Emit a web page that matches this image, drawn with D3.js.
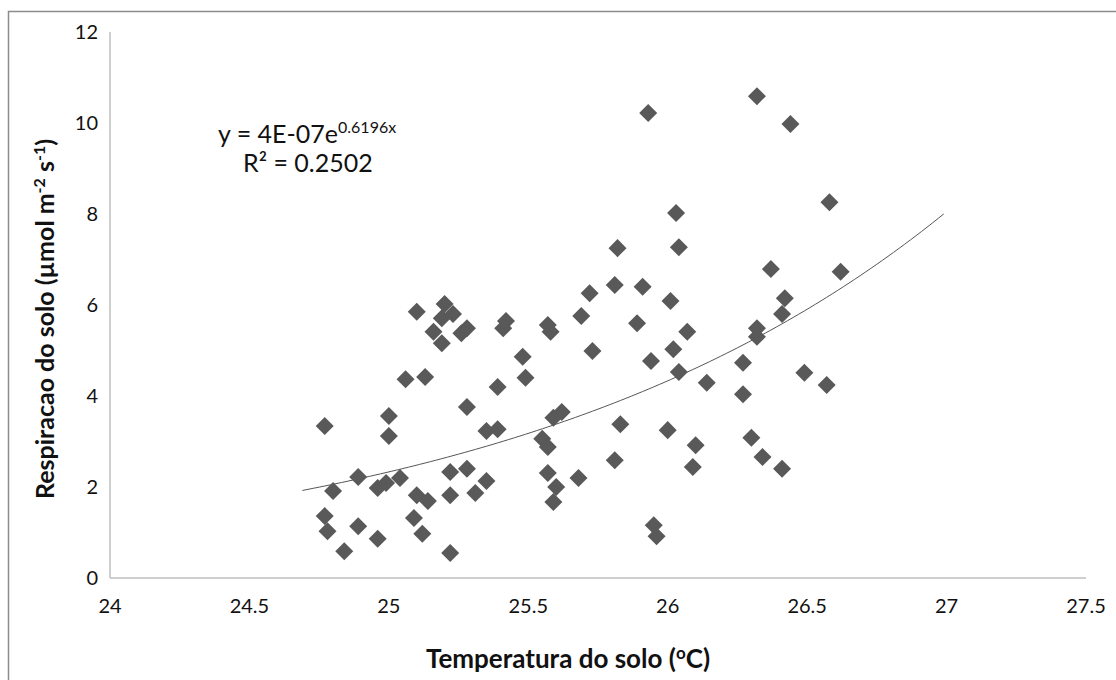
<!DOCTYPE html>
<html>
<head>
<meta charset="utf-8">
<script src="https://cdn.jsdelivr.net/npm/d3@7"></script>
<style>
  html, body { margin: 0; padding: 0; background: #fff; }
  svg { display: block; font-family: Lato, "Open Sans", sans-serif; }
</style>
</head>
<body>
<svg id="chart" width="1116" height="680"></svg>
<script>
// soil temperature (°C)
const temperatura = [
    24.77, 24.80, 24.77, 24.78, 24.84, 24.89, 24.89, 24.96, 25.00, 25.00,
    24.96, 24.99, 25.04, 25.06, 25.13, 25.10, 25.20, 25.19, 25.23, 25.16,
    25.19, 25.26, 25.28, 25.10, 25.14, 25.09, 25.12, 25.22, 25.22, 25.22,
    25.28, 25.28, 25.31, 25.35, 25.35, 25.39, 25.39, 25.42, 25.41, 25.48,
    25.49, 25.57, 25.58, 25.55, 25.57, 25.57, 25.60, 25.59, 25.59, 25.62,
    25.73, 25.68, 25.69, 25.72, 25.81, 25.82, 25.91, 25.83, 25.81, 25.89,
    25.93, 25.94, 25.95, 25.96, 26.00, 26.01, 26.02, 26.03, 26.04, 26.04,
    26.07, 26.09, 26.10, 26.14, 26.27, 26.27, 26.30, 26.32, 26.32, 26.32,
    26.34, 26.37, 26.41, 26.41, 26.42, 26.44, 26.49, 26.57, 26.58, 26.62
];
// soil respiration (µmol m-2 s-1), same order
const respiracao = [
    3.34, 1.91, 1.36, 1.03, 0.59, 2.22, 1.14, 0.86, 3.56, 3.12,
    1.98, 2.09, 2.20, 4.37, 4.42, 5.85, 6.02, 5.71, 5.80, 5.41,
    5.16, 5.38, 5.49, 1.82, 1.69, 1.32, 0.97, 0.55, 2.33, 1.82,
    3.76, 2.40, 1.87, 2.13, 3.23, 3.27, 4.20, 5.65, 5.49, 4.86,
    4.40, 5.56, 5.41, 3.06, 2.88, 2.31, 2.00, 1.67, 3.52, 3.65,
    4.99, 2.20, 5.76, 6.26, 6.44, 7.25, 6.40, 3.38, 2.59, 5.60,
    10.22, 4.77, 1.16, 0.92, 3.25, 6.09, 5.03, 8.02, 7.27, 4.53,
    5.41, 2.44, 2.92, 4.29, 4.73, 4.04, 3.08, 5.49, 5.30, 10.59,
    2.66, 6.79, 5.80, 2.40, 6.15, 9.98, 4.51, 4.24, 8.26, 6.73
];

const xTicks = [24, 24.5, 25, 25.5, 26, 26.5, 27, 27.5];
const yTicks = [0, 2, 4, 6, 8, 10, 12];

// exponential trendline y = a*e^(b*x)
const trendA = 4.37e-7;
const trendB = 0.6196;
const trendRange = [24.69, 27.0];

const svg = d3.select("#chart");
const plotLeft = 110, plotRight = 1086, plotTop = 32, plotBottom = 578;

const x = d3.scaleLinear().domain([24, 27.5]).range([plotLeft, plotRight]);
const y = d3.scaleLinear().domain([0, 12]).range([plotBottom, plotTop]);

// outer frame
svg.append("rect")
    .attr("x", 8.5).attr("y", 11.5)
    .attr("width", 1200).attr("height", 1000)
    .attr("fill", "none").attr("stroke", "#8c8c8c").attr("stroke-width", 1.5);

// axes lines
svg.append("line")
    .attr("x1", plotLeft).attr("y1", y(12)).attr("x2", plotLeft).attr("y2", plotBottom)
    .attr("stroke", "#bfbfbf").attr("stroke-width", 1.5);
svg.append("line")
    .attr("x1", plotLeft).attr("y1", plotBottom).attr("x2", plotRight).attr("y2", plotBottom)
    .attr("stroke", "#bfbfbf").attr("stroke-width", 1.5);

svg.selectAll(".ytick").data(yTicks).join("text")
    .attr("x", 98).attr("y", d => y(d))
    .attr("dy", "0.35em")
    .attr("text-anchor", "end")
    .attr("font-size", "20px").attr("fill", "#111")
    .text(d => d);

svg.selectAll(".xtick").data(xTicks).join("text")
    .attr("x", d => x(d)).attr("y", 613)
    .attr("text-anchor", "middle")
    .attr("font-size", "20px").attr("fill", "#111")
    .text(d => d);

// axis titles
svg.append("text")
    .attr("x", 568).attr("y", 668)
    .attr("text-anchor", "middle")
    .attr("font-size", "26px").attr("font-weight", "700").attr("fill", "#111")
    .html('Temperatura do solo (<tspan dy="-9" font-size="17px">o</tspan><tspan dy="9">C)</tspan>');

svg.append("text")
    .attr("transform", "translate(54, 319) rotate(-90)")
    .attr("text-anchor", "middle")
    .attr("font-size", "25px").attr("font-weight", "700").attr("fill", "#111")
    .html('Respiracao do solo (µmol m<tspan dy="-9" font-size="16px">-2</tspan><tspan dy="9"> s</tspan><tspan dy="-9" font-size="16px">-1</tspan><tspan dy="9">)</tspan>');

// trendline
const trendX = d3.range(trendRange[0], trendRange[1] + 0.001, 0.02);
svg.append("path")
    .datum(trendX)
    .attr("d", d3.line().x(d => x(d)).y(d => y(trendA * Math.exp(trendB * d))))
    .attr("fill", "none").attr("stroke", "#555").attr("stroke-width", 1);

// points
const points = temperatura.map((t, i) => ({ t, r: respiracao[i] }));
svg.selectAll(".pt").data(points).join("path")
    .attr("d", d3.symbol(d3.symbolSquare, 162))
    .attr("transform", d => `translate(${x(d.t)},${y(d.r)}) rotate(45)`)
    .attr("fill", "#595959");

// equation
svg.append("text")
    .attr("x", 218).attr("y", 143)
    .attr("font-size", "25px").attr("fill", "#111")
    .html('y = 4E-07e<tspan dy="-10" font-size="16px">0.6196x</tspan>');
svg.append("text")
    .attr("x", 243).attr("y", 172)
    .attr("font-size", "25px").attr("fill", "#111")
    .text("R² = 0.2502");
</script>
</body>
</html>
